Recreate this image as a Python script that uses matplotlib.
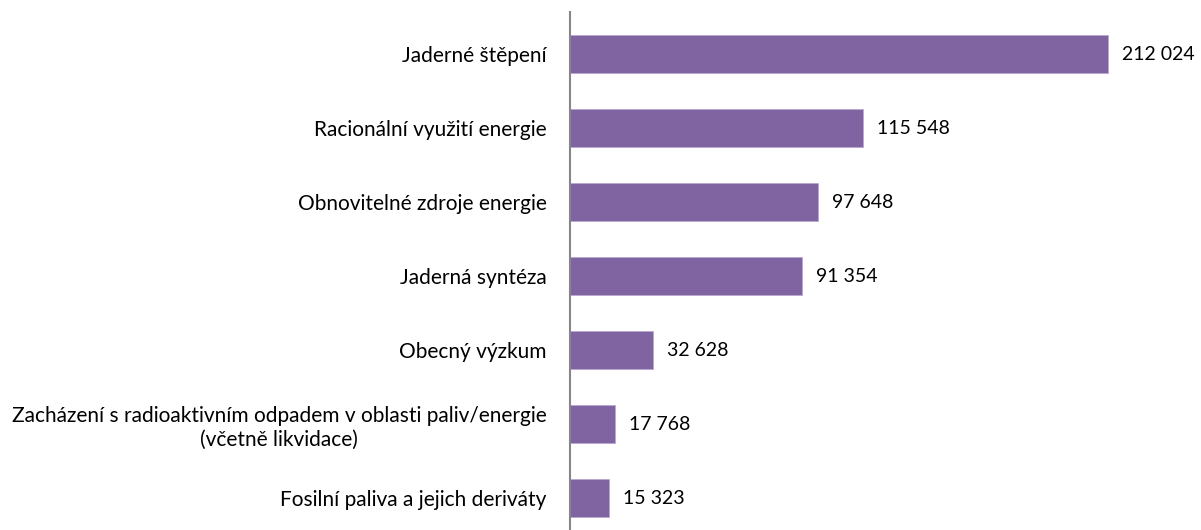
import matplotlib.pyplot as plt

plt.rcParams['font.family'] = ['Lato', 'DejaVu Sans']

categories = [
    'Jaderné štěpení',
    'Racionální využití energie',
    'Obnovitelné zdroje energie',
    'Jaderná syntéza',
    'Obecný výzkum',
    'Zacházení s radioaktivním odpadem v oblasti paliv/energie\n(včetně likvidace)',
    'Fosilní paliva a jejich deriváty',
]
values = [212024, 115548, 97648, 91354, 32628, 17768, 15323]
value_labels = ['212 024', '115 548', '97 648', '91 354', '32 628', '17 768', '15 323']

fig = plt.figure(figsize=(12.01, 5.30), dpi=100)
ax = fig.add_axes([570 / 1201, 0, 631 / 1201, 1 - 12 / 530])

pos = list(range(len(categories)))
ax.barh(pos, values, height=0.51, color='#8064A2', edgecolor='#B9A8D0', linewidth=0.6)

for p, v, t in zip(pos, values, value_labels):
    ax.text(v + 5500, p, t, va='center', ha='left', fontsize=14, color='#000000')

ax.set_xlim(0, 248700)
ax.set_ylim(6.43, -0.57)
ax.set_yticks(pos)
ax.set_yticklabels(categories, fontsize=15, multialignment='center', linespacing=1.25)
ax.tick_params(axis='y', length=0, pad=17)
ax.set_xticks([])

for s in ['top', 'right', 'bottom']:
    ax.spines[s].set_visible(False)
ax.spines['left'].set_color('#868686')
ax.spines['left'].set_linewidth(1.5)

fig.savefig('out.png', dpi=100)
